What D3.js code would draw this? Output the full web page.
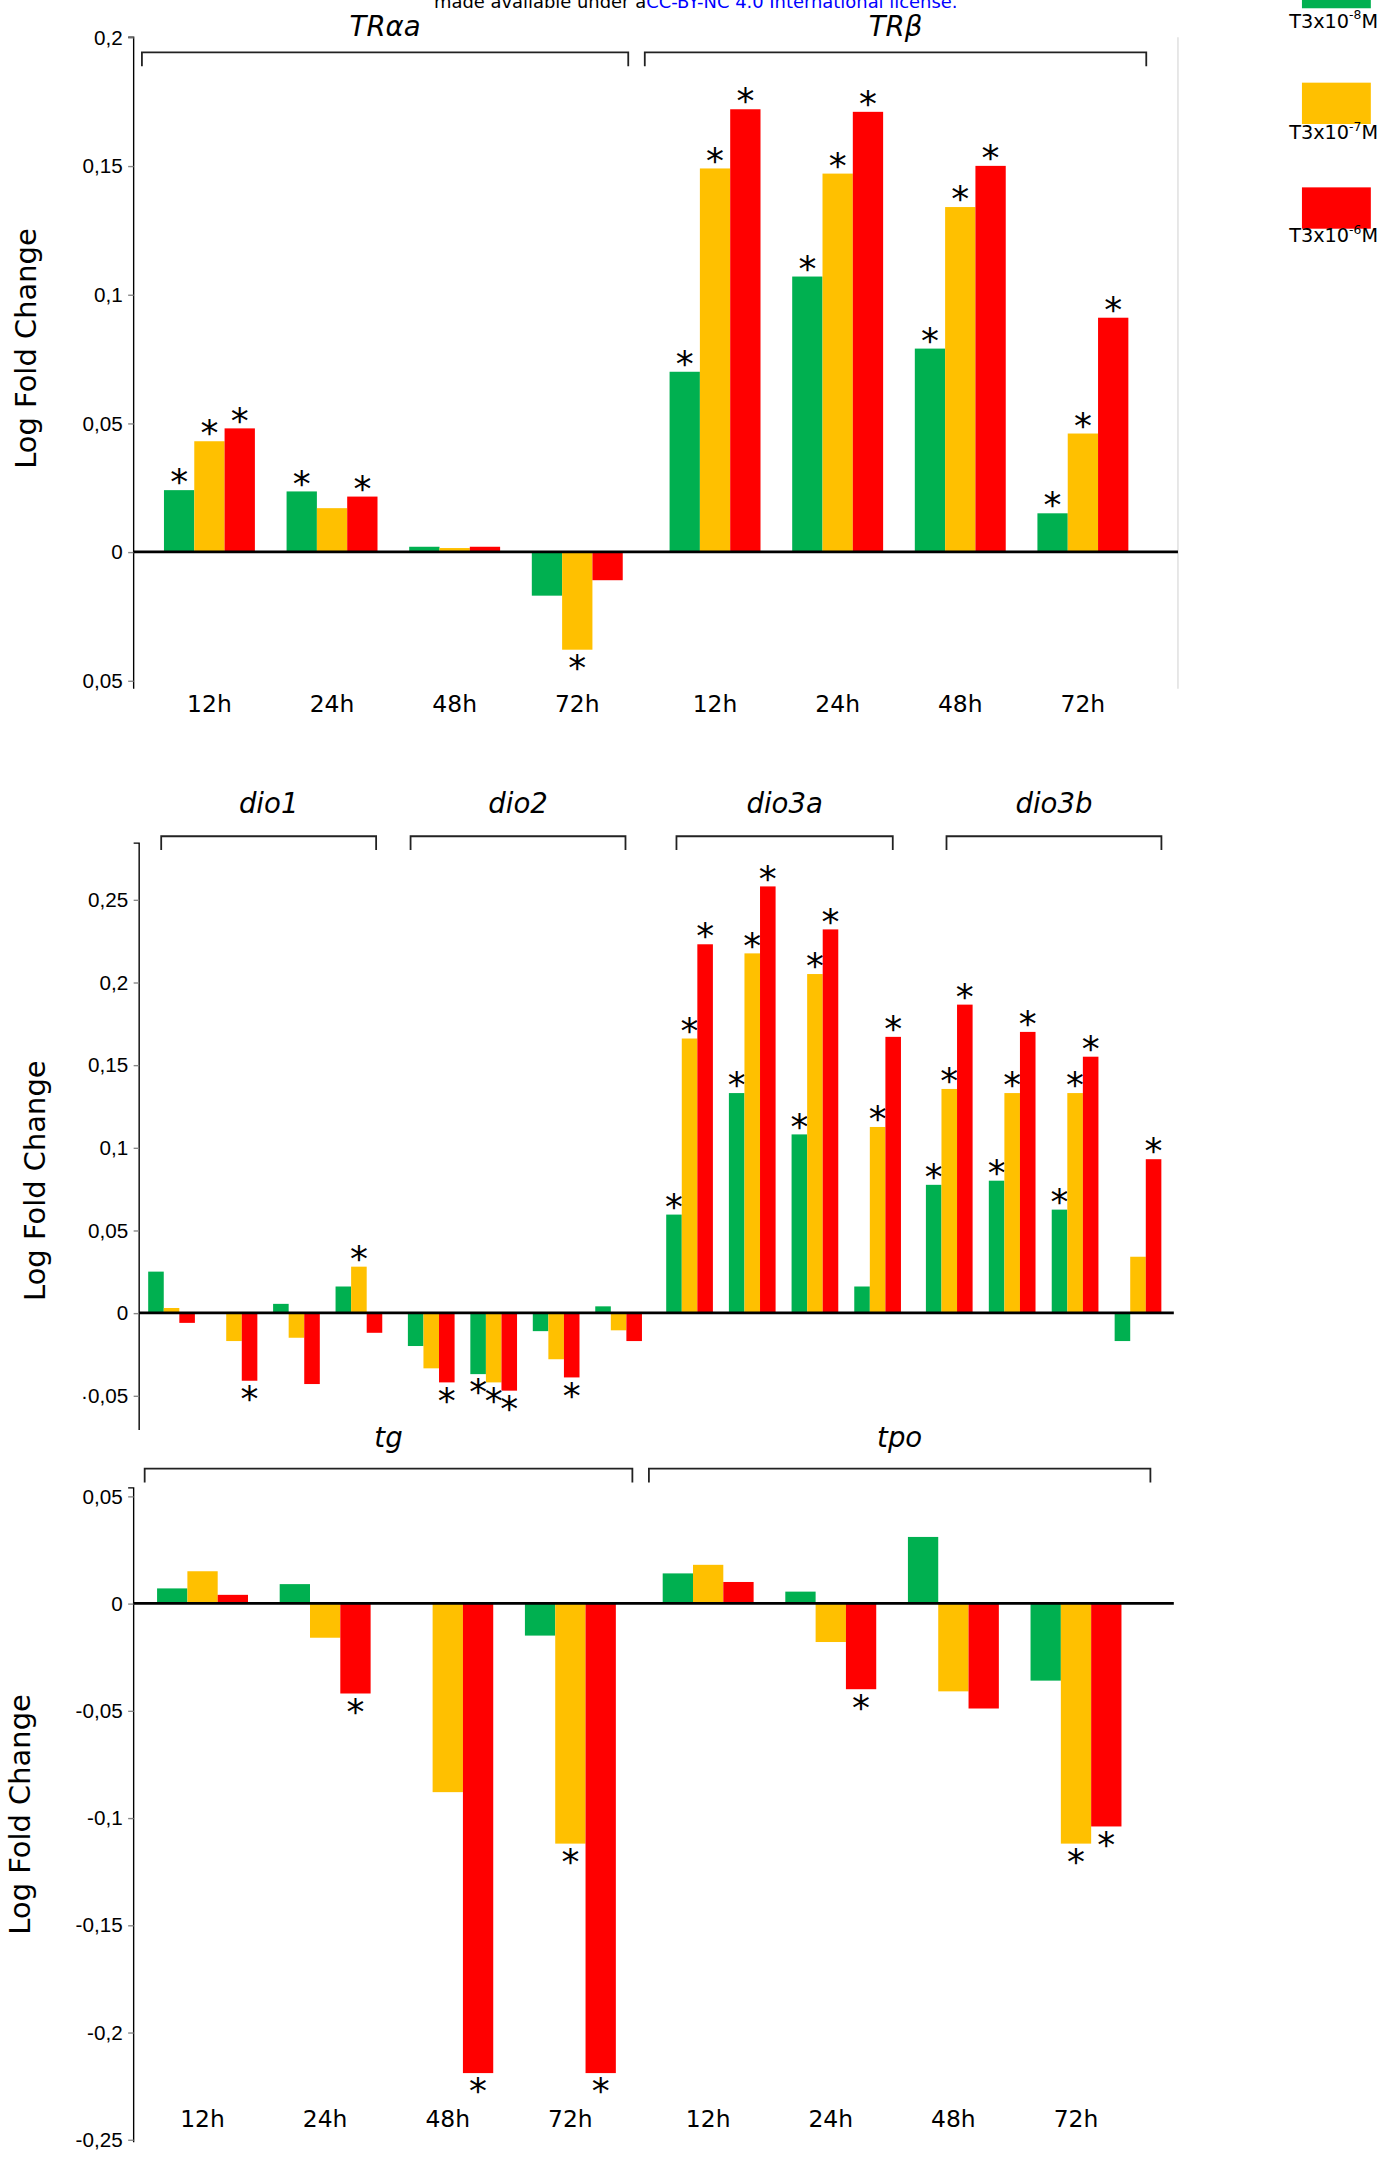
<!DOCTYPE html>
<html>
<head>
<meta charset="utf-8">
<script src="https://cdn.jsdelivr.net/npm/d3@7"></script>
<style>
  body { margin: 0; background: #fff; }
  text { font-family: "DejaVu Sans", sans-serif; }
  .tick text { font-family: "Liberation Sans Narrow", "Liberation Sans", sans-serif; font-size: 15px; }
</style>
</head>
<body>
<svg id="chart" width="1386" height="2163" viewBox="0 0 1006 1570"></svg>
<script>
var colors = ["#00b050", "#ffc000", "#ff0000"];
var doses = ["T3x10", "T3x10", "T3x10"];
var doseExp = ["-8", "-7", "-6"];
var times = ["12h", "24h", "48h", "72h"];

// panel 1: TR genes
var genes1 = ["TRαa", "TRβ"];
var tr_green  = [0.024, 0.0235, 0.002, -0.017, 0.070, 0.107, 0.079, 0.015];
var tr_yellow = [0.043, 0.017, 0.0015, -0.038, 0.149, 0.147, 0.134, 0.046];
var tr_red    = [0.048, 0.0215, 0.002, -0.011, 0.172, 0.171, 0.150, 0.091];
var tr_star   = [[1,1,1],[1,0,1],[0,0,0],[0,1,0],[1,1,1],[1,1,1],[1,1,1],[1,1,1]];

// panel 2: deiodinases
var genes2 = ["dio1", "dio2", "dio3a", "dio3b"];
var dio_green  = [0.025, 0, 0.0055, 0.016, -0.020, -0.037, -0.011, 0.004, 0.0595, 0.133, 0.108, 0.016, 0.0775, 0.080, 0.0625, -0.017];
var dio_yellow = [0.003, -0.017, -0.015, 0.028, -0.0335, -0.042, -0.028, -0.0105, 0.166, 0.2175, 0.205, 0.1125, 0.1355, 0.133, 0.133, 0.034];
var dio_red    = [-0.006, -0.041, -0.043, -0.012, -0.042, -0.047, -0.039, -0.017, 0.223, 0.258, 0.232, 0.167, 0.1865, 0.170, 0.155, 0.093];
var dio_star   = [[0,0,0],[0,0,1],[0,0,0],[0,1,0],[0,0,1],[1,1,1],[0,0,1],[0,0,0],
                  [1,1,1],[1,1,1],[1,1,1],[0,1,1],[1,1,1],[1,1,1],[1,1,1],[0,0,1]];

// panel 3: tg / tpo
var genes3 = ["tg", "tpo"];
var tg_green  = [0.007, 0.009, 0, -0.015, 0.014, 0.0055, 0.031, -0.036];
var tg_yellow = [0.015, -0.016, -0.088, -0.112, 0.018, -0.018, -0.041, -0.112];
var tg_red    = [0.004, -0.042, -0.219, -0.219, 0.010, -0.040, -0.049, -0.104];
var tg_star   = [[0,0,0],[0,0,1],[0,0,1],[0,1,1],[0,0,0],[0,0,1],[0,0,0],[0,1,1]];

var svg = d3.select("#chart");

// header fragment
var head = svg.append("text").attr("x", 505).attr("y", 6).attr("text-anchor", "middle")
  .attr("font-family", "Liberation Sans Narrow, Liberation Sans").attr("font-size", 13);
head.append("tspan").text("made available under a");
head.append("tspan").attr("fill", "#0000ff").text("CC-BY-NC 4.0 International license.");

function drawPanel(p) {
  var g = svg.append("g");
  var y = d3.scaleLinear().domain(p.domain).range(p.yrange);
  var series = [p.green, p.yellow, p.red];
  var nPer = p.nPer;

  g.append("g").attr("transform", "translate(" + p.axisX + ",0)")
    .call(d3.axisLeft(y).tickValues(p.ticks).tickSize(4)
      .tickFormat(function (d) { return p.fmt(d); }))
    .call(function (a) {
      a.select(".domain").attr("d", "M-4," + p.axisTop + "H0V" + p.axisBottom).attr("stroke", "#000");
      a.selectAll(".tick line").attr("stroke", "#888");
      a.selectAll(".tick text").attr("x", -8);
    });

  g.append("text").attr("transform", "translate(" + p.titleX + "," + p.titleY + ") rotate(-90)")
    .attr("text-anchor", "middle").attr("font-size", 21).text("Log Fold Change");

  if (p.rightLine) {
    g.append("line").attr("x1", p.zeroEnd).attr("x2", p.zeroEnd).attr("y1", p.axisTop).attr("y2", p.axisBottom)
      .attr("stroke", "#ddd");
  }

  p.genes.forEach(function (gene, gi) {
    var x = d3.scaleLinear().domain([0, nPer - 1]).range(p.geneRanges[gi]);
    var br = p.brackets[gi];
    g.append("path").attr("d", "M" + br[0] + "," + (p.brY + 10) + "V" + p.brY + "H" + br[1] + "V" + (p.brY + 10))
      .attr("fill", "none").attr("stroke", "#222").attr("stroke-width", 1.3);
    g.append("text").attr("x", (br[0] + br[1]) / 2).attr("y", p.labY).attr("text-anchor", "middle")
      .attr("font-style", "italic").attr("font-size", 20).text(gene);

    for (var t = 0; t < nPer; t++) {
      var idx = gi * nPer + t;
      var cx = x(t);
      if (p.xlabels) {
        g.append("text").attr("x", cx).attr("y", p.xlabY).attr("text-anchor", "middle")
          .attr("font-size", 17).text(times[t]);
      }
      series.forEach(function (s, si) {
        var v = s[idx];
        var bx = cx + (si - 1.5) * p.bw;
        if (v !== 0) {
          g.append("rect").attr("x", bx).attr("width", p.bw)
            .attr("y", Math.min(y(v), y(0))).attr("height", Math.abs(y(v) - y(0)))
            .attr("fill", colors[si]);
        }
        if (p.stars[idx][si]) {
          var sy = v >= 0 ? y(v) + 3 : y(v) + 22;
          g.append("text").attr("x", bx + p.bw / 2).attr("y", sy)
            .attr("text-anchor", "middle").attr("font-size", 26).text("*");
        }
      });
    }
  });

  g.append("line").attr("x1", p.axisX).attr("x2", p.zeroEnd).attr("y1", y(0)).attr("y2", y(0))
    .attr("stroke", "#000").attr("stroke-width", 2);
}

drawPanel({
  genes: genes1, nPer: 4, green: tr_green, yellow: tr_yellow, red: tr_red, stars: tr_star,
  domain: [-0.05, 0.2], yrange: [494, 27], ticks: [-0.05, 0, 0.05, 0.1, 0.15, 0.2],
  fmt: function (d) { return d === 0 ? "0" : d3.format("")(Math.abs(d)).replace(".", ","); },
  axisX: 97, axisTop: 27, axisBottom: 500, zeroEnd: 855, rightLine: true,
  titleX: 26, titleY: 253, bw: 22,
  geneRanges: [[152, 419], [519, 786]], brackets: [[103, 456], [468, 832]], brY: 38, labY: 26,
  xlabels: true, xlabY: 517
});

drawPanel({
  genes: genes2, nPer: 4, green: dio_green, yellow: dio_yellow, red: dio_red, stars: dio_star,
  domain: [-0.05, 0.25], yrange: [1013, 653], ticks: [-0.05, 0, 0.05, 0.1, 0.15, 0.2, 0.25],
  fmt: function (d) { return d === 0 ? "0" : (d < 0 ? "·" : "") + d3.format("")(Math.abs(d)).replace(".", ","); },
  axisX: 101, axisTop: 612, axisBottom: 1038, zeroEnd: 852, rightLine: false,
  titleX: 33, titleY: 857, bw: 11.3,
  geneRanges: [[124.5, 260.5], [313, 449], [500.5, 637], [689, 826]],
  brackets: [[117, 273], [298, 454], [491, 648], [687, 843]], brY: 607, labY: 590,
  xlabels: false
});

drawPanel({
  genes: genes3, nPer: 4, green: tg_green, yellow: tg_yellow, red: tg_red, stars: tg_star,
  domain: [-0.25, 0.05], yrange: [1553, 1086], ticks: [-0.25, -0.2, -0.15, -0.1, -0.05, 0, 0.05],
  fmt: function (d) { return d === 0 ? "0" : (d < 0 ? "-" : "") + d3.format("")(Math.abs(d)).replace(".", ","); },
  axisX: 97, axisTop: 1080, axisBottom: 1555, zeroEnd: 852, rightLine: false,
  titleX: 22, titleY: 1317, bw: 22,
  geneRanges: [[147, 414], [514, 781]], brackets: [[105, 459], [471, 835]], brY: 1066, labY: 1050,
  xlabels: true, xlabY: 1544
});

// legend
var leg = [[-24, 20], [60, 101], [136, 176]];
colors.forEach(function (c, i) {
  svg.append("rect").attr("x", 945).attr("y", leg[i][0]).attr("width", 50).attr("height", 30).attr("fill", c);
  var t = svg.append("text").attr("x", 968).attr("y", leg[i][1]).attr("text-anchor", "middle")
    .attr("font-family", "Liberation Sans Narrow, Liberation Sans").attr("font-size", 14);
  t.append("tspan").text(doses[i]);
  t.append("tspan").attr("dy", -6).attr("font-size", 9).text(doseExp[i]);
  t.append("tspan").attr("dy", 6).text("M");
});
</script>
</body>
</html>
